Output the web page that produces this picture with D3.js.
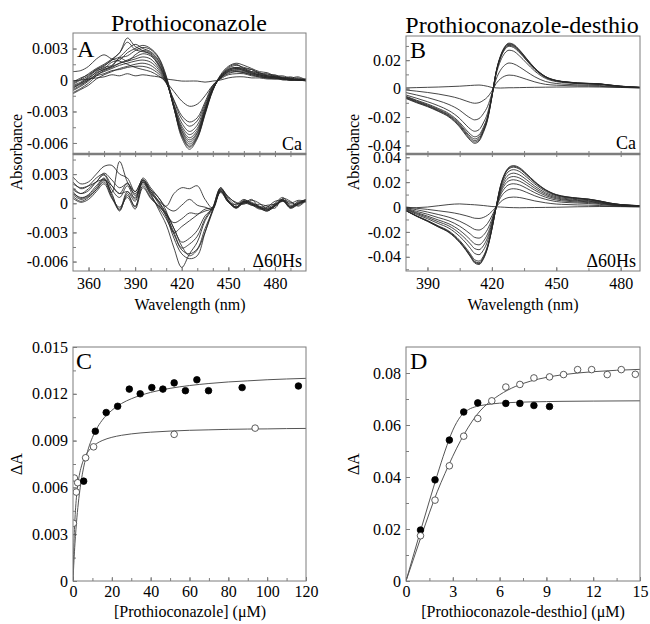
<!DOCTYPE html>
<html>
<head>
<meta charset="utf-8">
<script src="https://cdn.jsdelivr.net/npm/d3@7"></script>
<style>
    body { margin: 0; background: #fff; }
    svg { display: block; font-family: "Liberation Serif", "Times New Roman", serif; }
</style>
</head>
<body>
<svg id="fig" width="650" height="624"></svg>
<script>
/*global d3*/

// ---- panel A: prothioconazole difference spectra ----
var specAWave = [350, 355, 360, 365, 370, 375, 380, 385, 390, 395, 400, 405, 410, 415, 420, 425,
    430, 435, 440, 445, 450, 455, 460, 465, 470, 475, 480, 485, 490, 495, 500];

var specACa = [
    [-0.0005, -0.0002, 0.0003, 0.0009, 0.0011, 0.0017, 0.0019, 0.0026, 0.0030, 0.0033, 0.0030, 0.0022, 0.0004, -0.0026, -0.0055, -0.0066, -0.0056, -0.0033, -0.0010, 0.0005, 0.0013, 0.0016, 0.0014, 0.0011, 0.0008, 0.0007, 0.0004, 0.0004, 0.0002, 0.0003, 0.0000],
    [-0.0008, -0.0003, 0.0001, 0.0008, 0.0012, 0.0014, 0.0021, 0.0023, 0.0028, 0.0031, 0.0029, 0.0021, 0.0003, -0.0026, -0.0053, -0.0064, -0.0055, -0.0032, -0.0010, 0.0004, 0.0011, 0.0014, 0.0012, 0.0010, 0.0007, 0.0005, 0.0005, 0.0002, 0.0003, 0.0001, 0.0001],
    [-0.0002, 0.0002, 0.0005, 0.0010, 0.0013, 0.0019, 0.0022, 0.0029, 0.0034, 0.0030, 0.0027, 0.0019, 0.0002, -0.0027, -0.0052, -0.0063, -0.0054, -0.0031, -0.0009, 0.0004, 0.0012, 0.0015, 0.0011, 0.0010, 0.0006, 0.0006, 0.0003, 0.0003, 0.0001, 0.0002, -0.0001],
    [-0.0010, -0.0006, -0.0001, 0.0006, 0.0010, 0.0013, 0.0021, 0.0018, 0.0024, 0.0028, 0.0026, 0.0018, 0.0001, -0.0027, -0.0051, -0.0061, -0.0053, -0.0031, -0.0009, 0.0003, 0.0010, 0.0012, 0.0011, 0.0008, 0.0006, 0.0004, 0.0004, 0.0002, 0.0001, 0.0000, 0.0001],
    [-0.0004, 0.0000, 0.0004, 0.0010, 0.0014, 0.0019, 0.0026, 0.0036, 0.0029, 0.0027, 0.0025, 0.0016, 0.0000, -0.0026, -0.0049, -0.0059, -0.0051, -0.0030, -0.0009, 0.0003, 0.0010, 0.0012, 0.0010, 0.0008, 0.0007, 0.0004, 0.0003, 0.0002, 0.0002, 0.0000, 0.0000],
    [-0.0012, -0.0008, -0.0003, 0.0004, 0.0009, 0.0012, 0.0016, 0.0019, 0.0022, 0.0025, 0.0023, 0.0015, 0.0000, -0.0025, -0.0048, -0.0057, -0.0050, -0.0029, -0.0008, 0.0003, 0.0009, 0.0011, 0.0010, 0.0007, 0.0005, 0.0004, 0.0003, 0.0002, 0.0000, 0.0001, 0.0000],
    [-0.0003, 0.0001, 0.0006, 0.0011, 0.0015, 0.0020, 0.0026, 0.0040, 0.0032, 0.0028, 0.0024, 0.0014, -0.0001, -0.0025, -0.0046, -0.0055, -0.0048, -0.0028, -0.0008, 0.0002, 0.0009, 0.0011, 0.0009, 0.0007, 0.0005, 0.0003, 0.0003, 0.0001, 0.0001, 0.0000, 0.0000],
    [-0.0006, -0.0003, 0.0002, 0.0007, 0.0010, 0.0013, 0.0016, 0.0018, 0.0020, 0.0022, 0.0020, 0.0012, -0.0001, -0.0024, -0.0044, -0.0052, -0.0046, -0.0027, -0.0008, 0.0002, 0.0008, 0.0010, 0.0009, 0.0006, 0.0005, 0.0003, 0.0002, 0.0001, 0.0001, 0.0000, 0.0000],
    [-0.0009, -0.0005, 0.0000, 0.0005, 0.0008, 0.0011, 0.0014, 0.0016, 0.0018, 0.0019, 0.0017, 0.0010, -0.0002, -0.0023, -0.0041, -0.0049, -0.0043, -0.0025, -0.0007, 0.0002, 0.0008, 0.0009, 0.0008, 0.0006, 0.0004, 0.0003, 0.0002, 0.0001, 0.0000, 0.0000, 0.0000],
    [-0.0013, -0.0009, -0.0005, 0.0001, 0.0005, 0.0008, 0.0011, 0.0013, 0.0015, 0.0016, 0.0014, 0.0008, -0.0002, -0.0020, -0.0037, -0.0044, -0.0039, -0.0023, -0.0006, 0.0002, 0.0007, 0.0008, 0.0007, 0.0005, 0.0004, 0.0002, 0.0002, 0.0001, 0.0000, 0.0000, -0.0001],
    [-0.0007, -0.0004, 0.0000, 0.0004, 0.0006, 0.0009, 0.0010, 0.0012, 0.0013, 0.0013, 0.0011, 0.0006, -0.0003, -0.0019, -0.0034, -0.0040, -0.0036, -0.0021, -0.0005, 0.0002, 0.0006, 0.0008, 0.0007, 0.0005, 0.0003, 0.0002, 0.0002, 0.0000, 0.0000, 0.0000, 0.0000],
    [0.0008, 0.0009, 0.0013, 0.0020, 0.0024, 0.0020, 0.0018, 0.0015, 0.0012, 0.0010, 0.0008, 0.0004, -0.0002, -0.0011, -0.0020, -0.0025, -0.0023, -0.0015, -0.0005, 0.0001, 0.0005, 0.0006, 0.0006, 0.0004, 0.0003, 0.0002, 0.0001, 0.0001, 0.0000, 0.0000, 0.0000],
    [-0.0001, 0.0000, 0.0001, 0.0002, 0.0003, 0.0005, 0.0004, 0.0006, 0.0004, 0.0005, 0.0004, 0.0003, 0.0001, 0.0000, -0.0001, -0.0001, -0.0001, -0.0002, -0.0001, 0.0000, 0.0002, 0.0003, 0.0003, 0.0002, 0.0002, 0.0001, 0.0001, 0.0001, 0.0000, 0.0000, 0.0000]
];

var specAHs = [
    [0.0010, 0.0006, 0.0008, 0.0016, 0.0026, 0.0008, -0.0006, 0.0012, 0.0002, 0.0024, 0.0010, -0.0006, -0.0022, -0.0046, -0.0066, -0.0052, -0.0040, -0.0018, -0.0005, 0.0014, 0.0003, -0.0004, 0.0002, 0.0000, -0.0004, -0.0007, -0.0001, 0.0004, -0.0004, 0.0000, 0.0004],
    [0.0014, 0.0010, 0.0015, 0.0022, 0.0024, 0.0018, 0.0010, 0.0012, 0.0006, 0.0022, 0.0012, 0.0000, -0.0014, -0.0036, -0.0052, -0.0057, -0.0054, -0.0030, -0.0006, 0.0015, 0.0006, 0.0001, -0.0001, 0.0003, 0.0000, -0.0006, -0.0003, 0.0003, 0.0001, -0.0002, 0.0004],
    [0.0007, 0.0002, 0.0006, 0.0014, 0.0024, 0.0010, -0.0008, 0.0010, -0.0004, 0.0022, 0.0008, -0.0004, -0.0016, -0.0032, -0.0048, -0.0052, -0.0047, -0.0026, -0.0007, 0.0013, 0.0002, -0.0005, 0.0001, -0.0001, -0.0005, -0.0008, -0.0003, 0.0003, -0.0005, -0.0001, 0.0003],
    [0.0020, 0.0016, 0.0018, 0.0022, 0.0031, 0.0024, 0.0016, 0.0020, 0.0012, 0.0024, 0.0014, 0.0002, -0.0012, -0.0030, -0.0046, -0.0042, -0.0034, -0.0016, -0.0004, 0.0016, 0.0002, -0.0004, 0.0002, -0.0002, -0.0001, -0.0003, -0.0005, 0.0005, 0.0002, -0.0003, 0.0003],
    [0.0012, 0.0005, 0.0009, 0.0018, 0.0025, 0.0011, 0.0043, 0.0022, 0.0010, 0.0020, 0.0010, 0.0002, -0.0010, -0.0026, -0.0040, -0.0036, -0.0028, -0.0013, -0.0005, 0.0012, 0.0003, -0.0004, 0.0002, 0.0000, -0.0004, -0.0006, -0.0002, 0.0004, -0.0003, 0.0000, 0.0003],
    [0.0027, 0.0020, 0.0022, 0.0030, 0.0038, 0.0039, 0.0030, 0.0026, 0.0012, 0.0024, 0.0014, 0.0006, -0.0008, -0.0030, -0.0024, -0.0018, -0.0012, -0.0006, -0.0004, 0.0014, 0.0007, 0.0000, 0.0000, 0.0004, -0.0004, -0.0002, -0.0001, 0.0002, 0.0000, 0.0003, 0.0002],
    [0.0009, 0.0004, 0.0007, 0.0014, 0.0022, 0.0006, -0.0007, 0.0008, -0.0003, 0.0018, 0.0006, -0.0002, -0.0012, -0.0020, -0.0016, -0.0010, -0.0011, -0.0008, -0.0005, 0.0012, 0.0002, -0.0004, 0.0001, -0.0001, -0.0004, -0.0007, -0.0002, 0.0003, -0.0004, 0.0000, 0.0002],
    [0.0016, 0.0010, 0.0013, 0.0022, 0.0029, 0.0014, 0.0006, 0.0018, 0.0004, 0.0026, 0.0016, 0.0006, -0.0004, -0.0008, -0.0002, 0.0004, -0.0002, -0.0004, -0.0006, 0.0013, 0.0001, -0.0001, 0.0004, -0.0001, -0.0006, -0.0004, 0.0002, 0.0003, -0.0004, 0.0002, 0.0001],
    [0.0022, 0.0015, 0.0018, 0.0026, 0.0030, 0.0018, 0.0010, 0.0021, 0.0008, 0.0022, 0.0012, 0.0003, -0.0003, 0.0010, 0.0016, 0.0015, 0.0018, 0.0004, -0.0005, 0.0016, 0.0005, -0.0002, 0.0003, 0.0001, -0.0003, -0.0005, 0.0000, 0.0006, -0.0002, 0.0001, 0.0004],
    [0.0005, 0.0001, 0.0004, 0.0012, 0.0020, 0.0005, -0.0004, 0.0006, -0.0006, 0.0016, 0.0005, -0.0003, -0.0010, -0.0026, -0.0044, -0.0054, -0.0048, -0.0030, -0.0008, 0.0011, 0.0001, -0.0005, 0.0000, -0.0002, -0.0005, -0.0008, -0.0003, 0.0002, -0.0005, -0.0001, 0.0002]
];

// ---- panel B: prothioconazole-desthio difference spectra ----
var specBWave = [380, 385, 390, 395, 400, 405, 408, 410, 412, 414, 416, 418, 420, 422, 424, 426,
    428, 430, 433, 436, 440, 445, 450, 455, 460, 465, 470, 475, 480, 485, 490];

var specBCa = [
    [-0.0070, -0.0100, -0.0127, -0.0160, -0.0200, -0.0270, -0.0330, -0.0365, -0.0385, -0.0370, -0.0310, -0.0220, -0.0060, 0.0120, 0.0230, 0.0295, 0.0320, 0.0312, 0.0270, 0.0215, 0.0145, 0.0085, 0.0058, 0.0047, 0.0040, 0.0037, 0.0034, 0.0025, 0.0017, 0.0012, 0.0008],
    [-0.0066, -0.0096, -0.0123, -0.0156, -0.0195, -0.0263, -0.0322, -0.0356, -0.0376, -0.0361, -0.0302, -0.0214, -0.0058, 0.0118, 0.0226, 0.0290, 0.0315, 0.0307, 0.0266, 0.0212, 0.0143, 0.0084, 0.0057, 0.0046, 0.0039, 0.0036, 0.0033, 0.0025, 0.0017, 0.0012, 0.0008],
    [-0.0062, -0.0092, -0.0119, -0.0151, -0.0190, -0.0256, -0.0313, -0.0347, -0.0366, -0.0352, -0.0295, -0.0209, -0.0057, 0.0116, 0.0223, 0.0286, 0.0310, 0.0303, 0.0262, 0.0209, 0.0141, 0.0083, 0.0056, 0.0046, 0.0039, 0.0036, 0.0033, 0.0024, 0.0016, 0.0011, 0.0008],
    [-0.0058, -0.0087, -0.0114, -0.0146, -0.0184, -0.0248, -0.0304, -0.0336, -0.0354, -0.0340, -0.0285, -0.0202, -0.0055, 0.0114, 0.0219, 0.0280, 0.0304, 0.0297, 0.0257, 0.0204, 0.0138, 0.0081, 0.0055, 0.0045, 0.0038, 0.0035, 0.0032, 0.0024, 0.0016, 0.0011, 0.0007],
    [-0.0054, -0.0082, -0.0108, -0.0139, -0.0176, -0.0238, -0.0290, -0.0321, -0.0339, -0.0326, -0.0273, -0.0194, -0.0053, 0.0112, 0.0214, 0.0274, 0.0298, 0.0290, 0.0251, 0.0200, 0.0135, 0.0079, 0.0054, 0.0044, 0.0037, 0.0034, 0.0032, 0.0023, 0.0016, 0.0011, 0.0007],
    [-0.0045, -0.0068, -0.0092, -0.0120, -0.0155, -0.0210, -0.0257, -0.0285, -0.0300, -0.0289, -0.0242, -0.0172, -0.0047, 0.0101, 0.0194, 0.0249, 0.0270, 0.0264, 0.0228, 0.0182, 0.0123, 0.0072, 0.0049, 0.0040, 0.0034, 0.0031, 0.0029, 0.0021, 0.0014, 0.0010, 0.0007],
    [-0.0028, -0.0045, -0.0063, -0.0085, -0.0112, -0.0152, -0.0187, -0.0207, -0.0220, -0.0211, -0.0177, -0.0125, -0.0035, 0.0067, 0.0129, 0.0165, 0.0180, 0.0175, 0.0151, 0.0121, 0.0083, 0.0050, 0.0036, 0.0030, 0.0026, 0.0024, 0.0022, 0.0016, 0.0011, 0.0008, 0.0006],
    [-0.0010, -0.0018, -0.0027, -0.0038, -0.0052, -0.0071, -0.0087, -0.0097, -0.0103, -0.0099, -0.0083, -0.0059, -0.0017, 0.0036, 0.0069, 0.0088, 0.0095, 0.0093, 0.0081, 0.0066, 0.0047, 0.0030, 0.0024, 0.0021, 0.0019, 0.0018, 0.0016, 0.0012, 0.0009, 0.0007, 0.0005],
    [0.0005, 0.0007, 0.0009, 0.0011, 0.0014, 0.0017, 0.0020, 0.0022, 0.0024, 0.0025, 0.0022, 0.0016, 0.0008, 0.0005, 0.0004, 0.0005, 0.0006, 0.0006, 0.0007, 0.0008, 0.0009, 0.0010, 0.0011, 0.0011, 0.0012, 0.0012, 0.0011, 0.0010, 0.0008, 0.0006, 0.0005]
];

var specBHs = [
    [-0.0030, -0.0075, -0.0115, -0.0160, -0.0205, -0.0285, -0.0350, -0.0400, -0.0450, -0.0462, -0.0420, -0.0330, -0.0180, 0.0000, 0.0170, 0.0270, 0.0320, 0.0333, 0.0315, 0.0270, 0.0205, 0.0140, 0.0100, 0.0082, 0.0072, 0.0064, 0.0050, 0.0032, 0.0020, 0.0014, 0.0010],
    [-0.0030, -0.0074, -0.0113, -0.0158, -0.0202, -0.0281, -0.0345, -0.0394, -0.0443, -0.0455, -0.0414, -0.0325, -0.0177, 0.0000, 0.0167, 0.0265, 0.0314, 0.0327, 0.0309, 0.0265, 0.0201, 0.0137, 0.0098, 0.0081, 0.0071, 0.0063, 0.0049, 0.0031, 0.0020, 0.0014, 0.0010],
    [-0.0029, -0.0073, -0.0112, -0.0155, -0.0199, -0.0276, -0.0340, -0.0388, -0.0437, -0.0448, -0.0407, -0.0320, -0.0175, 0.0000, 0.0163, 0.0259, 0.0308, 0.0320, 0.0303, 0.0259, 0.0197, 0.0135, 0.0096, 0.0079, 0.0069, 0.0062, 0.0048, 0.0031, 0.0019, 0.0013, 0.0010],
    [-0.0028, -0.0071, -0.0108, -0.0151, -0.0193, -0.0268, -0.0330, -0.0377, -0.0424, -0.0435, -0.0396, -0.0311, -0.0170, 0.0000, 0.0153, 0.0243, 0.0288, 0.0300, 0.0284, 0.0243, 0.0185, 0.0126, 0.0090, 0.0074, 0.0065, 0.0058, 0.0045, 0.0029, 0.0018, 0.0013, 0.0009],
    [-0.0022, -0.0060, -0.0094, -0.0132, -0.0170, -0.0236, -0.0290, -0.0332, -0.0373, -0.0383, -0.0348, -0.0274, -0.0149, 0.0000, 0.0139, 0.0221, 0.0261, 0.0272, 0.0257, 0.0221, 0.0167, 0.0114, 0.0082, 0.0067, 0.0059, 0.0052, 0.0041, 0.0026, 0.0016, 0.0011, 0.0008],
    [-0.0018, -0.0052, -0.0083, -0.0118, -0.0152, -0.0212, -0.0260, -0.0297, -0.0334, -0.0343, -0.0312, -0.0245, -0.0134, 0.0000, 0.0125, 0.0199, 0.0236, 0.0245, 0.0232, 0.0199, 0.0151, 0.0103, 0.0074, 0.0060, 0.0053, 0.0047, 0.0037, 0.0024, 0.0015, 0.0010, 0.0007],
    [-0.0014, -0.0045, -0.0073, -0.0104, -0.0135, -0.0187, -0.0230, -0.0263, -0.0296, -0.0304, -0.0276, -0.0217, -0.0118, 0.0000, 0.0112, 0.0178, 0.0211, 0.0219, 0.0207, 0.0178, 0.0135, 0.0092, 0.0066, 0.0054, 0.0047, 0.0042, 0.0033, 0.0021, 0.0013, 0.0009, 0.0007],
    [-0.0010, -0.0035, -0.0058, -0.0085, -0.0111, -0.0154, -0.0190, -0.0217, -0.0244, -0.0250, -0.0228, -0.0179, -0.0098, 0.0000, 0.0096, 0.0152, 0.0180, 0.0187, 0.0177, 0.0152, 0.0115, 0.0079, 0.0056, 0.0046, 0.0040, 0.0036, 0.0028, 0.0018, 0.0011, 0.0008, 0.0006],
    [-0.0005, -0.0022, -0.0040, -0.0060, -0.0082, -0.0114, -0.0140, -0.0160, -0.0180, -0.0185, -0.0168, -0.0132, -0.0072, 0.0000, 0.0075, 0.0119, 0.0141, 0.0147, 0.0139, 0.0119, 0.0090, 0.0062, 0.0044, 0.0036, 0.0032, 0.0028, 0.0022, 0.0014, 0.0009, 0.0006, 0.0004],
    [0.0000, -0.0010, -0.0019, -0.0030, -0.0041, -0.0057, -0.0070, -0.0080, -0.0090, -0.0092, -0.0084, -0.0066, -0.0036, 0.0000, 0.0041, 0.0065, 0.0077, 0.0080, 0.0076, 0.0065, 0.0049, 0.0034, 0.0024, 0.0020, 0.0017, 0.0015, 0.0012, 0.0008, 0.0005, 0.0003, 0.0002],
    [-0.0010, -0.0005, 0.0000, 0.0010, 0.0020, 0.0025, 0.0022, 0.0020, 0.0018, 0.0015, 0.0012, 0.0008, 0.0004, 0.0002, 0.0000, -0.0002, -0.0004, -0.0005, -0.0006, -0.0005, -0.0004, -0.0003, -0.0002, 0.0000, 0.0002, 0.0003, 0.0004, 0.0004, 0.0003, 0.0002, 0.0001]
];

// ---- panel C: prothioconazole titration ----
var cFilledX = [5.5, 11.5, 17.1, 23.0, 29.0, 34.6, 40.6, 46.3, 52.1, 57.9, 63.8, 69.8, 87.1, 116.1];
var cFilledY = [0.0064, 0.0096, 0.0108, 0.0112, 0.0123, 0.0120, 0.0124, 0.0123, 0.0127, 0.0122, 0.0129, 0.0122, 0.0124, 0.0125];
var cOpenX = [0.2, 0.7, 1.7, 2.4, 6.5, 10.6, 52.1, 93.8];
var cOpenY = [0.0037, 0.0066, 0.0057, 0.0063, 0.0079, 0.0086, 0.0094, 0.0098];
var cFitX = [0, 0.25, 0.5, 1, 1.5, 2, 3, 4, 5, 6, 8, 10, 12, 15, 20, 25, 30, 40, 50, 60, 70, 80, 90, 100, 110, 120];
var cFitFilled = [0, 0.00069, 0.00131, 0.00238, 0.00328, 0.00405, 0.00528, 0.00623, 0.00698, 0.00759, 0.00852, 0.00920, 0.00972, 0.01030,
    0.01094, 0.01138, 0.01168, 0.01209, 0.01235, 0.01253, 0.01266, 0.01276, 0.01283, 0.01290, 0.01295, 0.01299];
var cFitOpen = [0, 0.00141, 0.00248, 0.00396, 0.00495, 0.00566, 0.00660, 0.00720, 0.00762, 0.00792, 0.00834, 0.00861, 0.00880, 0.00900,
    0.00921, 0.00934, 0.00943, 0.00954, 0.00961, 0.00966, 0.00969, 0.00972, 0.00974, 0.00975, 0.00977, 0.00978];

// ---- panel D: prothioconazole-desthio titration ----
var dFilledX = [0.93, 1.86, 2.78, 3.7, 4.6, 6.4, 7.3, 8.2, 9.2];
var dFilledY = [0.0196, 0.0389, 0.0542, 0.0650, 0.0685, 0.0683, 0.0683, 0.0675, 0.0671];
var dOpenX = [0.93, 1.86, 2.78, 3.7, 4.6, 5.5, 6.4, 7.3, 8.2, 9.2, 10.1, 11.0, 11.9, 12.9, 13.8, 14.7];
var dOpenY = [0.0174, 0.0311, 0.0443, 0.0557, 0.0625, 0.0693, 0.0746, 0.0756, 0.0781, 0.0785, 0.0794, 0.0813, 0.0813, 0.0794, 0.0813, 0.0795];
var dFitFilledX = [0, 0.5, 1, 1.5, 2, 2.5, 3, 3.5, 4, 4.5, 5, 6, 7, 8, 9, 10, 12, 15];
var dFitFilled = [0, 0.0104, 0.0207, 0.0308, 0.0407, 0.0500, 0.0580, 0.0633, 0.0659, 0.0671, 0.0677, 0.0684, 0.0687, 0.0689, 0.0690, 0.0691, 0.0692, 0.0693];
var dFitOpenX = [0, 0.5, 1, 1.5, 2, 2.5, 3, 3.5, 4, 4.5, 5, 5.5, 6, 7, 8, 9, 10, 12, 15];
var dFitOpen = [0, 0.0088, 0.0176, 0.0262, 0.0343, 0.0414, 0.0480, 0.0540, 0.0592, 0.0636, 0.0670, 0.0695, 0.0716, 0.0748, 0.0769, 0.0783, 0.0793, 0.0805, 0.0814];

// ---- tick labels ----
var ticksAX = [360, 390, 420, 450, 480];
var ticksAY = [-0.006, -0.003, 0, 0.003];
var ticksBX = [390, 420, 450, 480];
var ticksBYCa = [-0.04, -0.02, 0, 0.02];
var ticksBYHs = [-0.04, -0.02, 0, 0.02, 0.04];
var ticksCX = [0, 20, 40, 60, 80, 100, 120];
var ticksCY = [0, 0.003, 0.006, 0.009, 0.012, 0.015];
var ticksDX = [0, 3, 6, 9, 12, 15];
var ticksDY = [0, 0.02, 0.04, 0.06, 0.08];

(function () {
    "use strict";

    var svg = d3.select("#fig"),
        serif = "'Liberation Serif', 'Times New Roman', serif",
        grey = "#7d7d7d",
        ink = "#262626";

    function fmt(d) {
        return d === 0 ? "0" : String(d);
    }

    function styleAxis(sel) {
        sel.attr("font-family", serif).attr("font-size", 16);
        sel.select(".domain").remove();
        sel.selectAll(".tick line").attr("stroke", grey);
        sel.selectAll(".tick text").attr("fill", "#000");
    }

    function inside(scale, values) {
        var d = scale.domain(), lo = Math.min(d[0], d[1]), hi = Math.max(d[0], d[1]);
        return values.filter(function (v) { return v > lo + 1e-9 && v < hi - 1e-9; });
    }

    // one framed plot with inward ticks; returns the clipped group for marks
    function drawPanel(p) {
        var g = svg.append("g"),
            x0 = p.x.range()[0],
            x1 = p.x.range()[1],
            y0 = p.y.range()[1],
            y1 = p.y.range()[0],
            plot;

        g.append("clipPath").attr("id", p.id).append("rect")
            .attr("x", x0).attr("y", y0).attr("width", x1 - x0).attr("height", y1 - y0);

        g.append("g").attr("transform", "translate(" + x0 + ",0)")
            .call(d3.axisLeft(p.y).tickValues(inside(p.y, p.yMinor)).tickSize(-3).tickFormat(""))
            .call(styleAxis);
        g.append("g").attr("transform", "translate(" + x0 + ",0)")
            .call(d3.axisLeft(p.y).tickValues(p.yTicks).tickSize(-4).tickPadding(5).tickFormat(fmt))
            .call(styleAxis);

        g.append("g").attr("transform", "translate(0," + y1 + ")")
            .call(d3.axisBottom(p.x).tickValues(inside(p.x, p.xMinor)).tickSize(-3).tickFormat(""))
            .call(styleAxis);
        if (p.xTicks) {
            g.append("g").attr("transform", "translate(0," + y1 + ")")
                .call(d3.axisBottom(p.x).tickValues(p.xTicks).tickSize(-4).tickPadding(p.xPad).tickFormat(fmt))
                .call(styleAxis);
        }
        if (p.topTicks) {
            g.append("g").attr("transform", "translate(0," + y0 + ")")
                .call(d3.axisTop(p.x).tickValues(inside(p.x, p.xMinor)).tickSize(-3).tickFormat(""))
                .call(styleAxis);
        }

        plot = g.append("g").attr("clip-path", "url(#" + p.id + ")");

        g.append("rect")
            .attr("x", x0).attr("y", y0).attr("width", x1 - x0).attr("height", y1 - y0)
            .attr("fill", "none").attr("stroke", grey).attr("stroke-width", 1);

        return plot;
    }

    function drawSpectra(plot, x, y, waves, curves, curve) {
        var line = d3.line()
            .x(function (d, i) { return x(waves[i]); })
            .y(function (d) { return y(d); })
            .curve(curve);
        plot.selectAll("path.spec").data(curves).join("path")
            .attr("class", "spec")
            .attr("d", line)
            .attr("fill", "none")
            .attr("stroke", ink)
            .attr("stroke-width", 0.85);
    }

    function drawFit(plot, x, y, xs, ys) {
        var line = d3.line()
            .x(function (d, i) { return x(xs[i]); })
            .y(function (d) { return y(d); })
            .curve(d3.curveMonotoneX);
        plot.append("path").datum(ys)
            .attr("d", line)
            .attr("fill", "none")
            .attr("stroke", "#555")
            .attr("stroke-width", 1);
    }

    function drawPoints(plot, x, y, xs, ys, filled) {
        plot.append("g").selectAll("circle").data(ys).join("circle")
            .attr("cx", function (d, i) { return x(xs[i]); })
            .attr("cy", function (d) { return y(d); })
            .attr("r", 3.3)
            .attr("fill", filled ? "#000" : "#fff")
            .attr("stroke", filled ? "#000" : "#333")
            .attr("stroke-width", 0.8);
    }

    function label(txt, x, y, size, anchor, rotate) {
        var t = svg.append("text")
            .attr("font-family", serif)
            .attr("font-size", size)
            .attr("text-anchor", anchor || "start")
            .attr("fill", "#000")
            .text(txt);
        if (rotate) {
            t.attr("transform", "translate(" + x + "," + y + ") rotate(-90)");
        } else {
            t.attr("x", x).attr("y", y);
        }
        return t;
    }

    // scales
    var xA = d3.scaleLinear().domain([350, 500]).range([73, 306]),
        yACa = d3.scaleLinear().domain([-0.00705, 0.00448]).range([154, 33]),
        yAHs = d3.scaleLinear().domain([-0.00697, 0.00507]).range([271, 154]),
        xB = d3.scaleLinear().domain([380, 489]).range([406, 640]),
        yBCa = d3.scaleLinear().domain([-0.046, 0.037]).range([154, 36]),
        yBHs = d3.scaleLinear().domain([-0.0514, 0.0426]).range([271, 154]),
        xC = d3.scaleLinear().domain([0, 120]).range([73, 306]),
        yC = d3.scaleLinear().domain([0, 0.015]).range([581, 347]),
        xD = d3.scaleLinear().domain([0, 15]).range([406, 640]),
        yD = d3.scaleLinear().domain([0, 0.09]).range([581, 347]);

    var minorA = d3.range(350, 501, 10),
        minorAY = d3.range(-0.0075, 0.0052, 0.0015),
        minorB = d3.range(375, 490, 15),
        minorBY = d3.range(-0.05, 0.045, 0.01);

    var pACa = drawPanel({ id: "clipACa", x: xA, y: yACa, xMinor: minorA, yMinor: minorAY, yTicks: ticksAY });
    var pAHs = drawPanel({ id: "clipAHs", x: xA, y: yAHs, xMinor: minorA, yMinor: minorAY, yTicks: ticksAY,
        xTicks: ticksAX, xPad: 7, topTicks: true });
    var pBCa = drawPanel({ id: "clipBCa", x: xB, y: yBCa, xMinor: minorB, yMinor: minorBY, yTicks: ticksBYCa });
    var pBHs = drawPanel({ id: "clipBHs", x: xB, y: yBHs, xMinor: minorB, yMinor: minorBY, yTicks: ticksBYHs,
        xTicks: ticksBX, xPad: 7, topTicks: true });
    var pC = drawPanel({ id: "clipC", x: xC, y: yC, xMinor: d3.range(0, 121, 10), yMinor: d3.range(0, 0.0151, 0.0015),
        yTicks: ticksCY, xTicks: ticksCX, xPad: 5 });
    var pD = drawPanel({ id: "clipD", x: xD, y: yD, xMinor: d3.range(0, 15.1, 1.5), yMinor: d3.range(0, 0.091, 0.01),
        yTicks: ticksDY, xTicks: ticksDX, xPad: 5 });

    drawSpectra(pACa, xA, yACa, specAWave, specACa, d3.curveCatmullRom);
    drawSpectra(pAHs, xA, yAHs, specAWave, specAHs, d3.curveCatmullRom);
    drawSpectra(pBCa, xB, yBCa, specBWave, specBCa, d3.curveMonotoneX);
    drawSpectra(pBHs, xB, yBHs, specBWave, specBHs, d3.curveMonotoneX);

    // thick divider between the Ca and Δ60Hs plots
    [[73, 306], [406, 640]].forEach(function (d) {
        svg.append("line")
            .attr("x1", d[0]).attr("x2", d[1]).attr("y1", 154).attr("y2", 154)
            .attr("stroke", grey).attr("stroke-width", 2.5);
    });

    drawFit(pC, xC, yC, cFitX, cFitFilled);
    drawFit(pC, xC, yC, cFitX, cFitOpen);
    drawPoints(pC, xC, yC, cOpenX, cOpenY, false);
    drawPoints(pC, xC, yC, cFilledX, cFilledY, true);

    drawFit(pD, xD, yD, dFitFilledX, dFitFilled);
    drawFit(pD, xD, yD, dFitOpenX, dFitOpen);
    drawPoints(pD, xD, yD, dFilledX, dFilledY, true);
    drawPoints(pD, xD, yD, dOpenX, dOpenY, false);

    // titles and labels
    label("Prothioconazole", 189, 31, 24, "middle");
    label("Prothioconazole-desthio", 522, 33, 24, "middle");

    label("A", 77, 57, 24);
    label("B", 410, 58, 24);
    label("C", 76, 369, 24);
    label("D", 410, 369, 24);

    label("Ca", 302, 150, 18, "end");
    label("\u039460Hs", 302, 267, 18, "end");
    label("Ca", 636, 149, 18, "end");
    label("\u039460Hs", 636, 267, 18, "end");

    label("Absorbance", 22, 152, 16, "middle", true);
    label("Absorbance", 359, 152, 16, "middle", true);
    label("Wavelength (nm)", 190, 310, 16, "middle");
    label("Wavelength (nm)", 523, 310, 16, "middle");

    label("\u0394A", 22, 464, 16, "middle", true);
    label("\u0394A", 359, 464, 16, "middle", true);
    label("[Prothioconazole] (\u03bcM)", 190, 617, 16, "middle");
    label("[Prothioconazole-desthio] (\u03bcM)", 523, 617, 16, "middle");
}());
</script>
</body>
</html>
